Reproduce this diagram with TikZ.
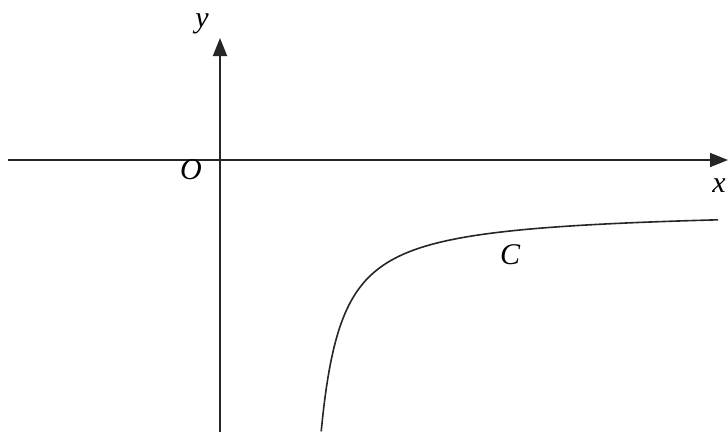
\documentclass[tikz,border=0pt]{standalone}
\usepackage{fontspec}
\setmainfont{Liberation Serif}
\usetikzlibrary{arrows.meta}
\begin{document}
\begin{tikzpicture}[x=1pt,y=-1pt,
  axis/.style={line width=1.8pt,draw=black!85,-{Triangle[width=14pt,length=18pt]}},
  lbl/.style={font=\fontsize{30}{32}\selectfont\itshape,inner sep=0pt},
  curve/.style={line width=1.6pt,draw=black!85}]
\useasboundingbox (0,0) rectangle (728,432);
\coordinate (xs) at (8,160);
\coordinate (xe) at (728,160);
\coordinate (ys) at (220,432);
\coordinate (ye) at (220,38);
\draw[axis] (xs) -- (xe);
\draw[axis] (ys) -- (ye);
\node[lbl] (ylab) at (202,24) {y};
\node[lbl] (olab) at (191,170) {O};
\node[lbl] (xlab) at (719,186) {x};
\node[lbl] (clab) at (510,255) {C};
\draw[curve] plot[domain=321.2:718,samples=300] (\x,{208.5+4725/(\x-300)});
\end{tikzpicture}
\end{document}
